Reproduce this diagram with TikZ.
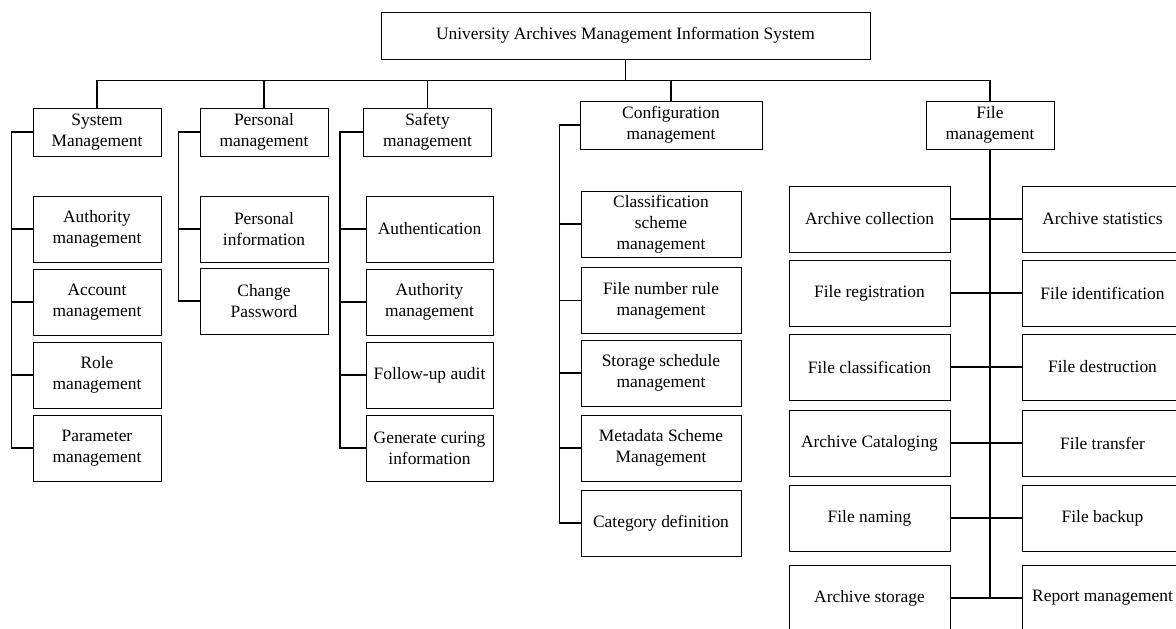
\documentclass[tikz,border=0pt]{standalone}
\usepackage{fontspec}
\setmainfont{Liberation Serif}
\usepackage{tikz}
\usetikzlibrary{positioning, calc}

\begin{document}
\begin{tikzpicture}[x=0.5pt, y=-0.5pt,
    every node/.style={font=\fontsize{8.7}{10.5}\selectfont},
    box/.style={draw, line width=0.5pt, align=center, inner sep=0pt},
    topbox/.style={box, minimum width=244.5pt, minimum height=23.5pt},
    headbox/.style={box, minimum width=64pt, minimum height=24pt},
    subbox/.style={box, minimum width=64pt, minimum height=33pt},
    confbox/.style={box, minimum width=80pt, minimum height=33pt},
    filebox/.style={box, minimum width=80.5pt, minimum height=33pt},
    link/.style={draw, line width=0.6pt},
    spine/.style={draw, line width=0.8pt}]
    \useasboundingbox (0,0) rectangle (1176,628);
    \clip (0,0) rectangle (1176,628);

    % root and first level
    \node[topbox] (root) at (625.5,35.5) {University Archives Management Information System};
    \node[headbox] (sys) at (97,132) {System\\Management};
    \node[headbox] (pers) at (264,132) {Personal\\management};
    \node[headbox] (safe) at (427.5,132) {Safety\\management};
    \node[headbox, minimum width=91pt] (conf) at (671,125) {Configuration\\management};
    \node[headbox] (file) at (990,125) {File\\management};
    \coordinate (bus) at ($(root.south)+(0,21)$);
    \draw[link] (root.south) -- (bus);
    \foreach \h in {sys, pers, safe, conf, file}
        \draw[link] (bus) -| (\h.north);

    % system management
    \foreach \t [count=\i] in {{Authority\\management}, {Account\\management},
            {Role\\management}, {Parameter\\management}}{
        \node[subbox] (sys\i) at (97,{229+(\i-1)*73}) {\t};
        \draw[spine] (sys.west) -- ++(-21,0) |- (sys\i.west);
    }

    % personal management
    \foreach \t [count=\i] in {{Personal\\information}, {Change\\Password}}{
        \node[subbox] (pers\i) at (264,{229+(\i-1)*72}) {\t};
        \draw[spine] (pers.west) -- ++(-21,0) |- (pers\i.west);
    }

    % safety management
    \foreach \t [count=\i] in {Authentication, {Authority\\management},
            Follow-up audit, {Generate curing\\information}}{
        \node[subbox, minimum width=63.5pt] (safe\i) at (429.5,{229+(\i-1)*73}) {\t};
        \draw[spine] (safe.west) -- ++(-23,0) |- (safe\i.west);
    }

    % configuration management
    \foreach \t/\y [count=\i] in {{Classification\\scheme\\management}/224,
            {File number rule\\management}/300.5, {Storage schedule\\management}/373,
            {Metadata Scheme\\Management}/448, Category definition/523}{
        \node[confbox] (conf\i) at (661,\y) {\t};
        \draw[spine] (conf.west) -- ++(-20,0) |- (conf\i.west);
    }

    % file management
    \foreach \l/\r/\y [count=\i] in {Archive collection/Archive statistics/219,
            File registration/File identification/293,
            File classification/File destruction/367,
            Archive Cataloging/File transfer/443,
            File naming/File backup/518,
            Archive storage/Report management/598}{
        \node[filebox] (fl\i) at (869.5,\y) {\l};
        \node[filebox] (fr\i) at (1102.5,\y) {\r};
        \draw[link] (fl\i.east) -- (fr\i.west);
    }
    \draw[spine] (file.south) |- (fl6.east);
    \draw[link] (file.south) |- (fr6.west);
\end{tikzpicture}
\end{document}
